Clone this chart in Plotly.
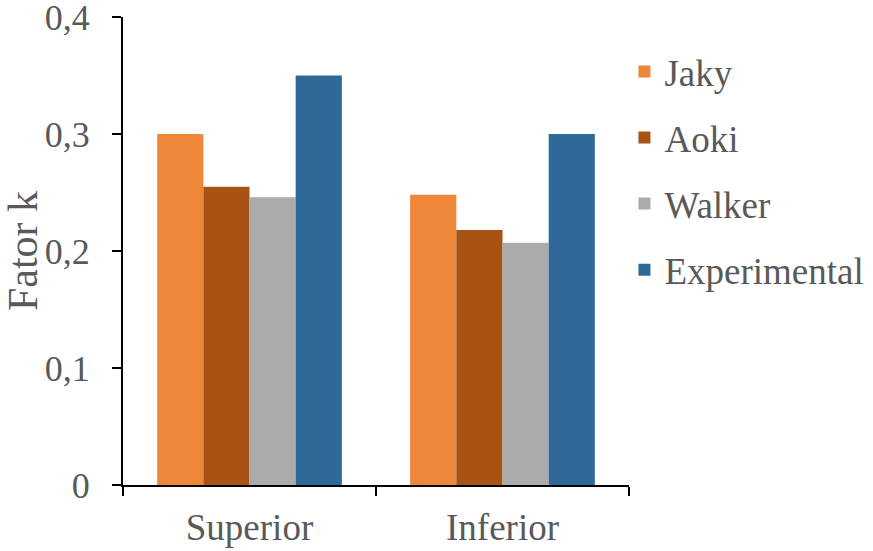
import plotly.graph_objects as go

categories = ["Superior", "Inferior"]
series_names = ["Jaky", "Aoki", "Walker", "Experimental"]
jaky = [0.300, 0.248]
aoki = [0.255, 0.218]
walker = [0.246, 0.207]
experimental = [0.350, 0.300]
y_tickvals = [0, 0.1, 0.2, 0.3, 0.4]
y_ticktext = ["0", "0,1", "0,2", "0,3", "0,4"]

colors = ["#EF873A", "#A65314", "#ABABAB", "#2F6998"]
values = [jaky, aoki, walker, experimental]

FONT = "'Liberation Serif', Tinos, 'Times New Roman', 'DejaVu Serif', serif"
GRAY = "#595959"

fig = go.Figure()
for name, vals, col in zip(series_names, values, colors):
    fig.add_trace(go.Bar(x=categories, y=vals, name=name, marker_color=col,
                         marker_line_width=0, legendgroup=name))

fig.update_layout(
    width=873, height=551,
    margin=dict(l=123, r=244, t=17, b=66, autoexpand=False),
    paper_bgcolor="white", plot_bgcolor="white",
    barmode="group", bargap=0.27, bargroupgap=0,
    font=dict(family=FONT, size=36, color=GRAY),
    separators=", ",
    legend=dict(x=0.991, xanchor="left", y=0.949, yanchor="top",
                font=dict(family=FONT, size=37, color=GRAY),
                tracegroupgap=15, itemwidth=30, traceorder="grouped"),
    showlegend=True,
)
fig.update_xaxes(
    showline=True, linecolor="black", linewidth=2, automargin=False,
    ticks="outside", tickson="boundaries", ticklen=9, tickwidth=2, tickcolor="black",
    tickfont=dict(family=FONT, size=37, color=GRAY), ticklabelstandoff=9,
    ticklabeloverflow="allow",
    showgrid=False,
)
fig.update_yaxes(
    range=[0, 0.4], tickvals=y_tickvals, ticktext=y_ticktext, automargin=False,
    showline=True, linecolor="black", linewidth=2,
    ticks="outside", ticklen=9, tickwidth=2, tickcolor="black",
    tickfont=dict(family=FONT, size=36, color=GRAY), ticklabelstandoff=15,
    ticklabeloverflow="allow",
    showgrid=False, zeroline=False,
    title=dict(text="Fator k", font=dict(family=FONT, size=42, color=GRAY), standoff=4),
)
fig.write_html("out.html", config={"displayModeBar": False},
               post_script="document.body.style.margin='0';")
